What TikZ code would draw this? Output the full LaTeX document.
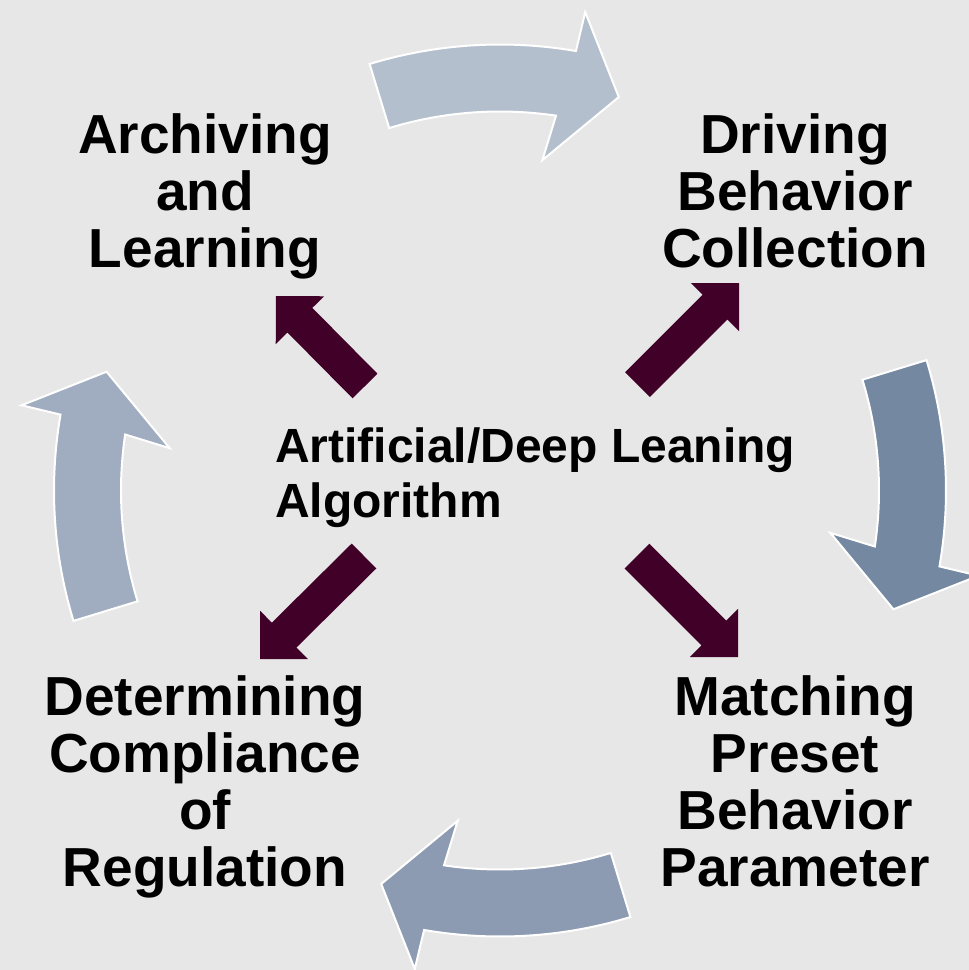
\documentclass[tikz,border=0pt]{standalone}
\usepackage{fontspec}
\setmainfont{Liberation Sans}
\usetikzlibrary{calc}
\definecolor{bgc}{RGB}{231,231,231}
\definecolor{cyctop}{RGB}{180,191,205}
\definecolor{cycright}{RGB}{116,136,162}
\definecolor{cycbottom}{RGB}{140,155,177}
\definecolor{cycleft}{RGB}{160,173,192}
\definecolor{darrc}{RGB}{64,0,40}
\tikzset{
  cyc/.style={draw=white, line width=2pt, line join=miter},
  darr/.style={fill=darrc},
  lbl/.style={font=\bfseries\fontsize{55}{57}\selectfont, align=center, inner sep=0pt, anchor=base},
  alglbl/.style={font=\bfseries\fontsize{48}{55}\selectfont, align=left, inner sep=0pt, anchor=base west},
}
\newcommand\cycarrow[2]{%
  \filldraw[cyc, fill=#2] ($(C)+(#1-17:446)$) arc[start angle=#1-17, end angle=#1+9.8, radius=446]
    -- ($(C)+(#1+10.1:486)$) -- ($(C)+(#1+16.8:411)$) -- ($(C)+(#1+7.3:333)$)
    -- ($(C)+(#1+8.5:379)$) arc[start angle=#1+8.5, end angle=#1-17, radius=379] -- cycle;}
\newcommand\diagarrow[2]{%
  \coordinate (#2b) at ($(#2)!34pt!(#1)$);
  \fill[darr] ($(#1)!17.5pt!90:(#2)$) -- ($(#2b)!17.5pt!90:(#2)$) -- ($(#2b)!34pt!90:(#2)$)
    -- (#2) -- ($(#2b)!34pt!-90:(#2)$) -- ($(#2b)!17.5pt!-90:(#2)$) -- ($(#1)!17.5pt!-90:(#2)$) -- cycle;}
\begin{document}
\begin{tikzpicture}[x=1pt,y=-1pt]
\fill[bgc] (0,0) rectangle (969,970);
\useasboundingbox (0,0) rectangle (969,970);
\coordinate (C) at (500,490.5);
% cycle arrows
\cycarrow{-90}{cyctop}
\cycarrow{0}{cycright}
\cycarrow{90}{cycbottom}
\cycarrow{-180}{cycleft}
% diagonal arrows
\coordinate (neT) at (637.5,384.5); \coordinate (neP) at (739,283);
\coordinate (seT) at (637,556);     \coordinate (seP) at (738,657);
\coordinate (swT) at (364,556);     \coordinate (swP) at (260,659);
\coordinate (nwT) at (365,386);     \coordinate (nwP) at (276,296);
\diagarrow{neT}{neP}
\diagarrow{seT}{seP}
\diagarrow{swT}{swP}
\diagarrow{nwT}{nwP}
% labels (anchor base = baseline of last line)
\node[lbl] (arch) at (205,267) {Archiving\\and\\Learning};
\node[lbl] (drive) at (795,267) {Driving\\Behavior\\Collection};
\node[lbl] (det) at (205,886) {Determining\\Compliance\\of\\Regulation};
\node[lbl] (match) at (795,886) {Matching\\Preset\\Behavior\\Parameter};
\node[alglbl] (alg) at (275,517) {Artificial/Deep Leaning\\Algorithm};
\end{tikzpicture}
\end{document}
